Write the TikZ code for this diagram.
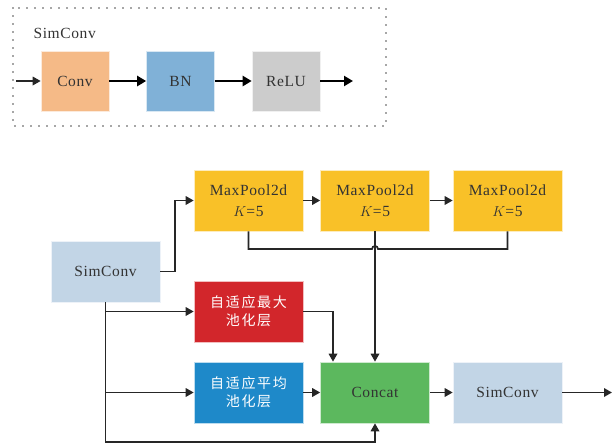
\documentclass[tikz,border=0pt]{standalone}
\usepackage{fontspec}
\setmainfont[LetterSpace=4]{Liberation Serif}
\newfontfamily\cjkfont[LetterSpace=12]{Noto Sans CJK SC}
\usetikzlibrary{arrows.meta}

\definecolor{convc}{HTML}{F5BA87}
\definecolor{bnc}{HTML}{80B1D7}
\definecolor{reluc}{HTML}{CCCCCC}
\definecolor{poolc}{HTML}{F9C128}
\definecolor{simc}{HTML}{C2D5E6}
\definecolor{maxc}{HTML}{D2262B}
\definecolor{avgc}{HTML}{1E89C9}
\definecolor{catc}{HTML}{5CB85E}
\definecolor{txtc}{HTML}{333333}

\begin{document}
\begin{tikzpicture}
    [x=1pt,y=-1pt,line join=miter,
     every node/.style={text=txtc,font=\fontsize{15.5}{21}\selectfont},
     blk/.style={fill=#1,draw=white!70!#1,line width=0.6pt,minimum width=109pt,minimum height=61pt,inner sep=0pt,align=center},
     sblk/.style={blk=#1,minimum width=68pt,minimum height=60pt},
     cjk/.style={text=white,font=\cjkfont\fontsize{14}{18}\selectfont},
     arr/.style={-{Triangle[length=8pt,width=8.5pt]},line width=1.7pt,black!85},
     bigarr/.style={-{Triangle[length=9pt,width=10pt]},line width=2.2pt,black},
     wire/.style={line width=1.7pt,black!85}]
\useasboundingbox (0,0) rectangle (616,445);

%SimConv block: Conv -> BN -> ReLU
\draw[black!70,line width=1.8pt,line cap=round,dash pattern=on 0pt off 8pt] (13,8) rectangle (386,126);
\node[anchor=west] (title) at (30,33) {SimConv};
\node[sblk=convc] (conv) at (75,81) {Conv};
\node[sblk=bnc] (bn) at (180.5,81) {BN};
\node[sblk=reluc] (relu) at (286,81) {ReLU};
\coordinate (in) at (16,81);
\coordinate (out) at (353,81);
\draw[arr] (in) -- (conv);
\draw[bigarr] (conv) -- (bn);
\draw[bigarr] (bn) -- (relu);
\draw[bigarr] (relu) -- (out);

%SPPF-like module
\node[blk=simc] (sc1) at (105.5,271.5) {SimConv};
\node[blk=poolc] (mp1) at (248.5,200.5) {MaxPool2d\\$K$=5};
\node[blk=poolc] (mp2) at (375,200.5) {MaxPool2d\\$K$=5};
\node[blk=poolc] (mp3) at (507.5,200.5) {MaxPool2d\\$K$=5};
\node[blk=maxc,cjk] (amax) at (248.5,311.5) {自适应最大\\池化层};
\node[blk=avgc,cjk] (aavg) at (248.5,392.5) {自适应平均\\池化层};
\node[blk=catc] (cat) at (375,392.5) {Concat};
\node[blk=simc] (sc2) at (507.5,392.5) {SimConv};

\coordinate (jn) at (375,249);
\coordinate (low) at (105.5,442);
\coordinate (res) at (612,392.5);

\draw[arr] (sc1.east) -- ++(15,0) |- (mp1.west);
\draw[arr] (mp1) -- (mp2);
\draw[arr] (mp2) -- (mp3);
%collect the pooled outputs, hop over the middle branch
\draw[wire] (mp1.south) -- (mp1.south |- jn) -- ([xshift=-3pt]jn) arc (180:360:3) -- (mp3.south |- jn) -- (mp3.south);
\draw[arr] (mp2.south) -- (cat.north);
\draw[arr] (sc1.south) |- (amax.west);
\draw[arr] (sc1.south) |- (aavg.west);
\draw[arr] (sc1.south) -- (low) -| (cat.south);
\draw[arr] (amax.east) -| ([xshift=-42pt]cat.north);
\draw[arr] (aavg) -- (cat);
\draw[arr] (cat) -- (sc2);
\draw[arr] (sc2) -- (res);

\end{tikzpicture}
\end{document}
